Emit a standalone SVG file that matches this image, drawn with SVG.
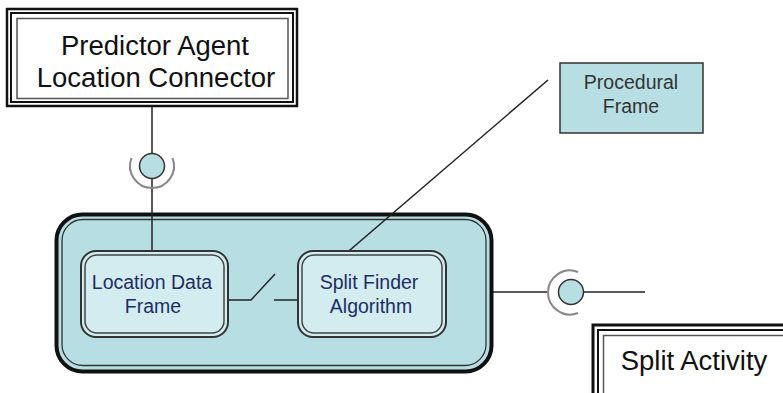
<svg xmlns="http://www.w3.org/2000/svg" width="783" height="393" viewBox="0 0 783 393">
<style>
.big{font-family:"Liberation Sans",Arial,sans-serif;font-size:27.5px;fill:#111;text-anchor:middle}
.lbl{font-family:"Liberation Sans",Arial,sans-serif;font-size:19.5px;fill:#1f2c66;text-anchor:middle}
.lblg{font-family:"Liberation Sans",Arial,sans-serif;font-size:19.5px;fill:#333;text-anchor:middle}
.o1{fill:none;stroke:#111;stroke-width:2.5}
.o2{fill:none;stroke:#111;stroke-width:2}
.o3{fill:none;stroke:#555;stroke-width:1.5}
.wire{fill:none;stroke:#222;stroke-width:1.5}
.ball{fill:#b7dee2;stroke:#333;stroke-width:1.5}
.sock{fill:none;stroke:#888;stroke-width:2}
.frame{fill:#d3ecef;stroke:#333;stroke-width:2}
.frame2{fill:none;stroke:#444;stroke-width:1.5}
</style>
<rect width="783" height="393" fill="#fff"/>
<g id="container">
<rect x="56.5" y="214.5" width="435" height="157" rx="26" fill="#b7dee2" stroke="#111" stroke-width="4"/>
<rect x="62" y="219.5" width="424" height="146" rx="21" fill="none" stroke="#333" stroke-width="1.3"/>
</g>
<g id="connectors">
<line class="wire" x1="152" y1="106" x2="152" y2="252"/>
<path class="wire" d="M227 300 H251 L275 274"/>
<path class="wire" d="M274 300 H299"/>
<line class="wire" x1="343" y1="256" x2="548" y2="80"/>
<line class="wire" x1="493" y1="292" x2="547" y2="292"/>
<line class="wire" x1="583" y1="292" x2="645" y2="292"/>
</g>
<g id="predictor-agent-location-connector">
<rect class="o1" x="7" y="9" width="290" height="97" fill="#fff"/>
<rect class="o2" x="11" y="13" width="282" height="89"/>
<rect class="o3" x="17" y="18.5" width="271" height="80"/>
<text class="big" x="155" y="55">Predictor Agent</text>
<text class="big" x="156" y="87">Location Connector</text>
</g>
<g id="port-top">
<path class="sock" d="M131.5 158 A22 22 0 1 0 172.5 158"/>
<circle class="ball" cx="152" cy="166" r="12.5"/>
</g>
<g id="port-right">
<path class="sock" d="M578 272 A22 22 0 1 0 578 313"/>
<circle class="ball" cx="571" cy="292" r="12.5"/>
</g>
<g id="procedural-frame">
<rect x="560" y="63" width="143" height="70" fill="#b7dee2" stroke="#333" stroke-width="1.5"/>
<text class="lblg" x="631" y="89">Procedural</text>
<text class="lblg" x="631" y="113">Frame</text>
</g>
<g id="split-activity">
<rect x="593" y="325" width="200" height="80" fill="#fff" stroke="#111" stroke-width="3"/>
<rect x="598" y="330" width="200" height="80" fill="none" stroke="#111" stroke-width="2"/>
<rect class="o3" x="603.5" y="335.5" width="200" height="80"/>
<text class="big" x="694" y="370">Split Activity</text>
</g>
<g id="location-data-frame">
<rect class="frame" x="81" y="251" width="147" height="86" rx="15"/>
<rect class="frame2" x="85" y="255" width="139" height="78" rx="12"/>
<text class="lbl" x="152" y="289">Location Data</text>
<text class="lbl" x="153" y="313">Frame</text>
</g>
<g id="split-finder-algorithm">
<rect class="frame" x="298" y="251" width="148" height="86" rx="15"/>
<rect class="frame2" x="302" y="255" width="140" height="78" rx="12"/>
<text class="lbl" x="369" y="289">Split Finder</text>
<text class="lbl" x="371" y="313">Algorithm</text>
</g>
</svg>
